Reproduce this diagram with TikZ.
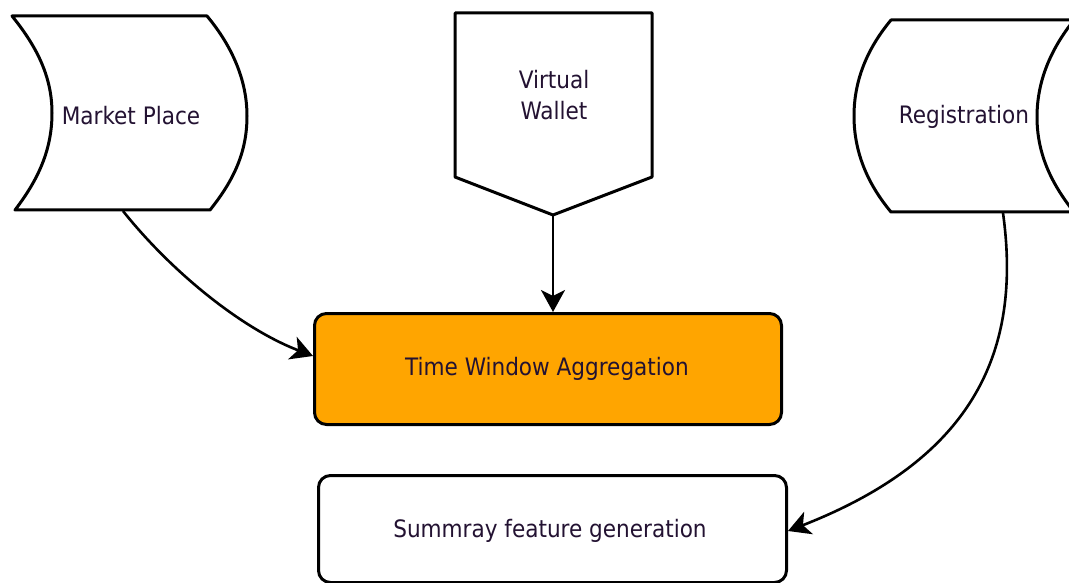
\documentclass[tikz,border=0pt]{standalone}
\usepackage{fontspec}
\setmainfont{DejaVu Sans Condensed}
\usetikzlibrary{arrows.meta}
\definecolor{txtc}{RGB}{35,18,50}
\definecolor{orangefill}{RGB}{255,165,0}
\tikzset{
  shapeline/.style={draw=black, line width=3pt, line join=round, fill=white},
  label/.style={text=txtc, font=\fontsize{24}{31}\selectfont, inner sep=0pt, align=center},
  procbox/.style={draw=black, line width=3pt, rounded corners=12pt},
  flow/.style={draw=black, line width=2.6pt, -{Stealth[length=22pt,width=24pt,inset=6pt]}},
}
\begin{document}
\begin{tikzpicture}[x=1pt,y=-1pt]
\useasboundingbox (0,0) rectangle (1069,583);
% Market Place
\path[shapeline] (12,16) -- (207,16)
  .. controls (232,46) and (247,80) .. (247,116)
  .. controls (247,152) and (234,180) .. (210,210)
  -- (15,210)
  .. controls (38,180) and (52,150) .. (52,113)
  .. controls (52,78) and (38,48) .. (12,16) -- cycle;
\node[label] (mp) at (131,116) {Market Place};
\coordinate (mpout) at (123,211);
% Virtual Wallet
\path[shapeline] (455,13) -- (652,13) -- (652,177) -- (553,215) -- (455,177) -- cycle;
\node[label] (vw) at (554,95) {Virtual\\Wallet};
\coordinate (vwout) at (553,215);
% Registration
\path[shapeline] (891,20) -- (1074,20)
  .. controls (1050,50) and (1037,82) .. (1037,117)
  .. controls (1037,152) and (1050,182) .. (1074,212)
  -- (891,212)
  .. controls (866,182) and (854,150) .. (854,116)
  .. controls (854,82) and (866,50) .. (891,20) -- cycle;
\node[label] (reg) at (964,117) {Registration};
\coordinate (regout) at (1003,213);
% Time Window Aggregation
\node[procbox, fill=orangefill, minimum width=467pt, minimum height=111pt, inner sep=0pt, anchor=north west] (twa) at (313,312) {};
\node[label] (twat) at (547,369) {Time Window Aggregation};
% Summary feature generation
\node[procbox, fill=white, minimum width=468pt, minimum height=107pt, inner sep=0pt, anchor=north west] (sfg) at (317,474) {};
\node[label] (sfgt) at (550,531) {Summray feature generation};
% connectors
\draw[flow] (mpout) .. controls (170,270) and (240,328) .. (twa.west |- 0,356);
\draw[flow] (vwout) -- (twa.north -| vwout);
\draw[flow] (regout) .. controls (1022,350) and (975,458) .. (sfg.east |- 0,531);
\end{tikzpicture}
\end{document}
